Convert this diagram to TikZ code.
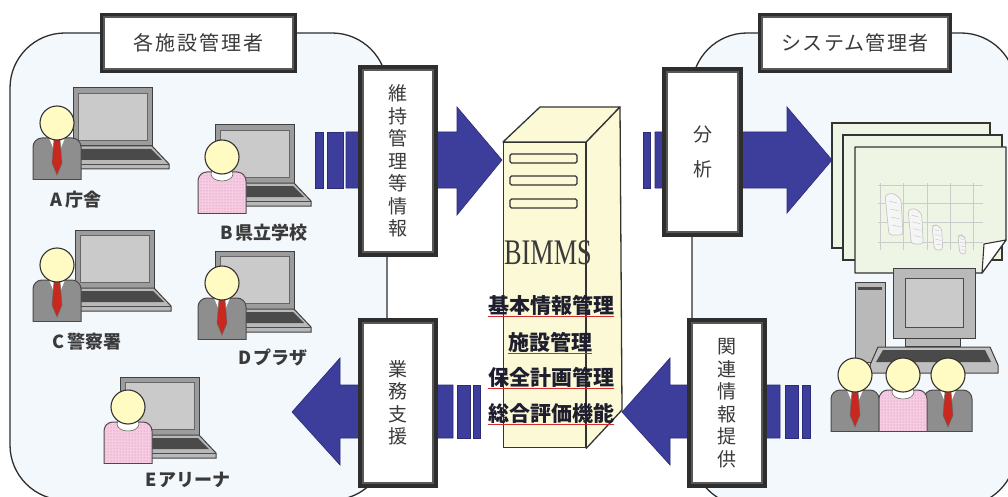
\documentclass[tikz,border=0pt]{standalone}
\usepackage{fontspec}
\setmainfont{Liberation Serif}
\newfontfamily\jp{Noto Sans CJK JP}
\usetikzlibrary{patterns}

\definecolor{panelfill}{HTML}{F3F8FD}
\definecolor{arrowblue}{HTML}{3D3D9C}
\definecolor{arrowedge}{HTML}{2A2A78}
\definecolor{frame}{HTML}{2E2E2E}
\definecolor{suit}{HTML}{8E8E8E}
\definecolor{suitedge}{HTML}{4A4A4A}
\definecolor{tiered}{HTML}{C8281E}
\definecolor{skin}{HTML}{FFFBC2}
\definecolor{pinkbody}{HTML}{F6CCE2}
\definecolor{pinkdot}{HTML}{D77BAE}
\definecolor{scrgray}{HTML}{9C9C9C}
\definecolor{scrlight}{HTML}{CACACA}
\definecolor{keydark}{HTML}{4A4A4A}
\definecolor{serverfill}{HTML}{FCF9D6}
\definecolor{pagefill}{HTML}{EEF5E4}
\definecolor{textgray}{HTML}{3A3A3A}
\definecolor{labeldark}{HTML}{1E1E2E}
\definecolor{ulred}{HTML}{D42A2A}

\tikzset{
  panel/.style={draw=frame, line width=1.3pt, fill=panelfill, rounded corners=55pt},
  titlebox/.style={draw=frame, line width=4pt, fill=white, inner sep=0pt,
    font=\jp\fontsize{20}{22}\selectfont, text=textgray},
  vbox/.style={draw=frame, line width=6pt, fill=white, minimum width=74pt, inner sep=0pt,
    align=center, font=\jp\fontsize{19}{22.5}\selectfont, text=textgray},
  arrowbody/.style={fill=arrowblue, draw=arrowedge, line width=0.6pt},
  whoname/.style={font=\jp\bfseries\fontsize{18}{20}\selectfont, text=textgray, inner sep=0pt},
  funcname/.style={font=\jp\bfseries\fontsize{21}{23}\selectfont, text=labeldark, inner sep=0pt},
  underline/.style={draw=ulred, line width=1.2pt},
  innerline/.style={draw=frame!80, line width=1.1pt},
  % head of a person, origin at the centre of the head
  headshape/.pic={
    \filldraw[fill=skin, draw=black!80, line width=1.1pt] (0,0) circle[radius=17pt];
  },
  % man in a grey suit with a red tie
  man/.pic={
    \begin{scope}
      \clip (-30,0) rectangle (30,56);
      \filldraw[fill=suit, draw=suitedge, line width=1pt, rounded corners=9pt] (-24,15) rectangle (24,70);
    \end{scope}
    \draw[suitedge, line width=1pt] (-24,56) -- (24,56);
    \fill[white] (-8,15) -- (8,15) -- (0,34) -- cycle;
    \filldraw[fill=tiered, draw=black!60, line width=0.5pt] (-3,17) -- (3,17) -- (5,40) -- (0,52) -- (-5,40) -- cycle;
    \pic {headshape};
  },
  % woman in a pink dotted top
  woman/.pic={
    \begin{scope}
      \clip (-30,0) rectangle (30,56);
      \filldraw[fill=pinkbody, draw=suitedge, line width=1pt, rounded corners=9pt] (-24,15) rectangle (24,70);
      \fill[pattern=dots, pattern color=pinkdot] (-24,15) rectangle (24,70);
    \end{scope}
    \draw[suitedge, line width=1pt] (-24,56) -- (24,56);
    \filldraw[fill=white, draw=black!60, line width=0.6pt] (0,17) ellipse [x radius=11pt, y radius=7pt];
    \pic {headshape};
  },
  % laptop, origin at the top left corner of the screen
  laptop/.pic={
    \filldraw[fill=scrgray, draw=black!75, line width=1pt] (0,0) rectangle (79,58);
    \filldraw[fill=scrlight, draw=black!60, line width=0.8pt] (5,5) rectangle (74,52);
    \filldraw[fill=gray!55, draw=black!75, line width=1pt] (2,58) -- (79,58) -- (96,76) -- (96,81) -- (2,81) -- cycle;
    \fill[keydark] (6,61) -- (78,61) -- (89,72) -- (6,72) -- cycle;
    \draw[black!70, line width=0.8pt] (2,76) -- (96,76);
  },
  % one sketched tower of the chart on the report page
  tower/.pic={
    \filldraw[fill=gray!8, draw=gray!45, line width=0.7pt, rounded corners=3pt]
      (0,0) -- (8,-2) -- (16,4) -- (18,40) -- (4,40) -- cycle;
    \draw[gray!40, line width=0.5pt] (4,6) -- (12,8) (5,14) -- (14,16) (6,22) -- (15,24) (7,30) -- (16,32);
  }
}

\begin{document}
\begin{tikzpicture}[x=1pt, y=-1pt]
\useasboundingbox (0,0) rectangle (1008,497);
\fill[white] (0,0) rectangle (1008,497);

% the two user groups
\draw[panel] (10,33) rectangle (387,500);
\draw[panel] (692,33) rectangle (1016,506);

% title boxes
\node[titlebox, minimum width=193pt, minimum height=56pt] (ttlfac) at (198.5,43)
  {\addfontfeature{LetterSpace=10}各施設管理者};
\draw[innerline] ([shift={(4pt,-4pt)}]ttlfac.north west) rectangle ([shift={(-4pt,4pt)}]ttlfac.south east);
\node[titlebox, minimum width=190pt, minimum height=56pt] (ttlsys) at (855,43)
  {\addfontfeature{LetterSpace=6}システム管理者};
\draw[innerline] ([shift={(4pt,-4pt)}]ttlsys.north west) rectangle ([shift={(-4pt,4pt)}]ttlsys.south east);

% facility managers with their laptops
\pic at (73,88) {laptop};
\pic at (57,123) {man};
\node[whoname] (nameA) at (76,200) {A\hspace{3pt}庁舎};

\pic at (215,125) {laptop};
\pic at (222,157) {woman};
\node[whoname] (nameB) at (264,233) {B\hspace{3pt}県立学校};

\pic at (75,230) {laptop};
\pic at (57,265) {man};
\node[whoname] (nameC) at (87,342) {C\hspace{3pt}警察署};

\pic at (215,251) {laptop};
\pic at (222,283) {man};
\node[whoname] (nameD) at (273,357) {D\hspace{2pt}プラザ};

\pic at (120,377) {laptop};
\pic at (128,407) {woman};
\node[whoname] (nameE) at (188,480) {E\hspace{2pt}アリーナ};

% server
\node[draw=black!80, line width=1.3pt, fill=serverfill, minimum width=82pt, minimum height=305pt,
  inner sep=0pt, anchor=north west] (server) at (503,142) {};
\filldraw[fill=serverfill, draw=black!80, line width=1.3pt, line join=round]
  (server.north west) -- (540,107) -- (620,107) -- (server.north east) -- cycle;
\filldraw[fill=serverfill, draw=black!80, line width=1.3pt, line join=round]
  (server.north east) -- (620,107) -- (622,410) -- (server.south east) -- cycle;
\foreach \sy in {154,176,199}
  \filldraw[fill=serverfill, draw=black!80, line width=1.2pt, rounded corners=1.5pt] (510,\sy) rectangle (577,\sy+9);
\node[text=textgray, font=\fontsize{36}{38}\selectfont, inner sep=0pt] (bimms) at (548,253) {\scalebox{0.73}[1]{BIMMS}};
\node[funcname] (fn1) at (551,305) {基本情報管理};
\node[funcname] (fn2) at (550,342) {施設管理};
\node[funcname] (fn3) at (551,377) {保全計画管理};
\node[funcname] (fn4) at (551,413) {総合評価機能};
\foreach \f in {fn1,fn2,fn3,fn4}
  \draw[underline] ([yshift=-1.5pt]\f.south west) -- ([yshift=-1.5pt]\f.south east);

% block arrows
\fill[arrowbody] (315,132) rectangle (323,188);
\fill[arrowbody] (327,132) rectangle (343,188);
\fill[arrowbody] (346,132) -- (457,132) -- (457,107) -- (502,160) -- (457,215) -- (457,188) -- (346,188) -- cycle;

\fill[arrowbody] (643,132) rectangle (650,188);
\fill[arrowbody] (655,132) -- (787,132) -- (787,107) -- (832,160) -- (787,213) -- (787,188) -- (655,188) -- cycle;

\fill[arrowbody] (802,385) rectangle (810,438);
\fill[arrowbody] (785,385) rectangle (798,438);
\fill[arrowbody] (780,385) -- (670,385) -- (670,358) -- (622,412) -- (670,465) -- (670,438) -- (780,438) -- cycle;

\fill[arrowbody] (473,385) rectangle (480,438);
\fill[arrowbody] (457,385) rectangle (470,438);
\fill[arrowbody] (453,385) -- (340,385) -- (340,358) -- (292,412) -- (340,465) -- (340,438) -- (453,438) -- cycle;

% labels of the information flows
\node[vbox, minimum height=186pt] (keep) at (398,161) {維\\持\\管\\理\\等\\情\\報};
\draw[innerline] ([shift={(5pt,-5pt)}]keep.north west) rectangle ([shift={(-5pt,5pt)}]keep.south east);
\node[vbox, minimum height=164pt] (support) at (398,403) {業\\務\\支\\援};
\draw[innerline] ([shift={(5pt,-5pt)}]support.north west) rectangle ([shift={(-5pt,5pt)}]support.south east);
\node[vbox, minimum height=164pt, minimum width=75pt] (analysis) at (702.5,152) {分\\[12.5pt]析};
\draw[innerline] ([shift={(5pt,-5pt)}]analysis.north west) rectangle ([shift={(-5pt,5pt)}]analysis.south east);
\node[vbox, minimum height=164pt] (related) at (727,403) {関\\連\\情\\報\\提\\供};
\draw[innerline] ([shift={(5pt,-5pt)}]related.north west) rectangle ([shift={(-5pt,5pt)}]related.south east);

% report pages
\filldraw[fill=pagefill, draw=black!80, line width=1.3pt] (832,123) rectangle (990,248);
\filldraw[fill=pagefill, draw=black!80, line width=1.3pt] (843,135) rectangle (1002,260);
\filldraw[fill=pagefill, draw=black!80, line width=1.3pt, line join=round]
  (855,147) -- (1006,147) -- (1006,240) -- (982,273) -- (855,273) -- cycle;
\filldraw[fill=white, draw=black!80, line width=1.1pt, line join=round] (982,273) -- (984,244) -- (1006,240) -- cycle;
\begin{scope}[draw=gray!40, line width=0.6pt]
  \foreach \gx in {880,903,927,950,973} \draw (\gx,183) -- (\gx,250);
  \foreach \gy in {185,203,222,242} \draw (878,\gy) -- (983,\gy);
\end{scope}
\pic at (885,195) {tower};
\pic[scale=0.85] at (908,210) {tower};
\pic[scale=0.6] at (932,226) {tower};
\pic[scale=0.45] at (958,236) {tower};

% desktop computer
\filldraw[fill=gray!55, draw=black!75, line width=1pt] (855,282) rectangle (885,362);
\fill[black!70] (858,287) rectangle (882,290);
\filldraw[fill=gray!55, draw=black!75, line width=1pt] (905,336) rectangle (960,346);
\filldraw[fill=gray!55, draw=black!75, line width=1pt] (893,268) rectangle (975,338);
\filldraw[fill=scrlight, draw=black!70, line width=0.9pt] (905,278) rectangle (963,327);
\filldraw[fill=gray!50, draw=black!75, line width=1pt, line join=round]
  (878,347) -- (990,347) -- (998,365) -- (998,373) -- (870,373) -- (870,365) -- cycle;
\fill[keydark] (883,350) -- (985,350) -- (991,362) -- (876,362) -- cycle;

% system managers
\pic at (855,375) {man};
\pic at (948,375) {man};
\pic at (903,375) {woman};

\end{tikzpicture}
\end{document}
